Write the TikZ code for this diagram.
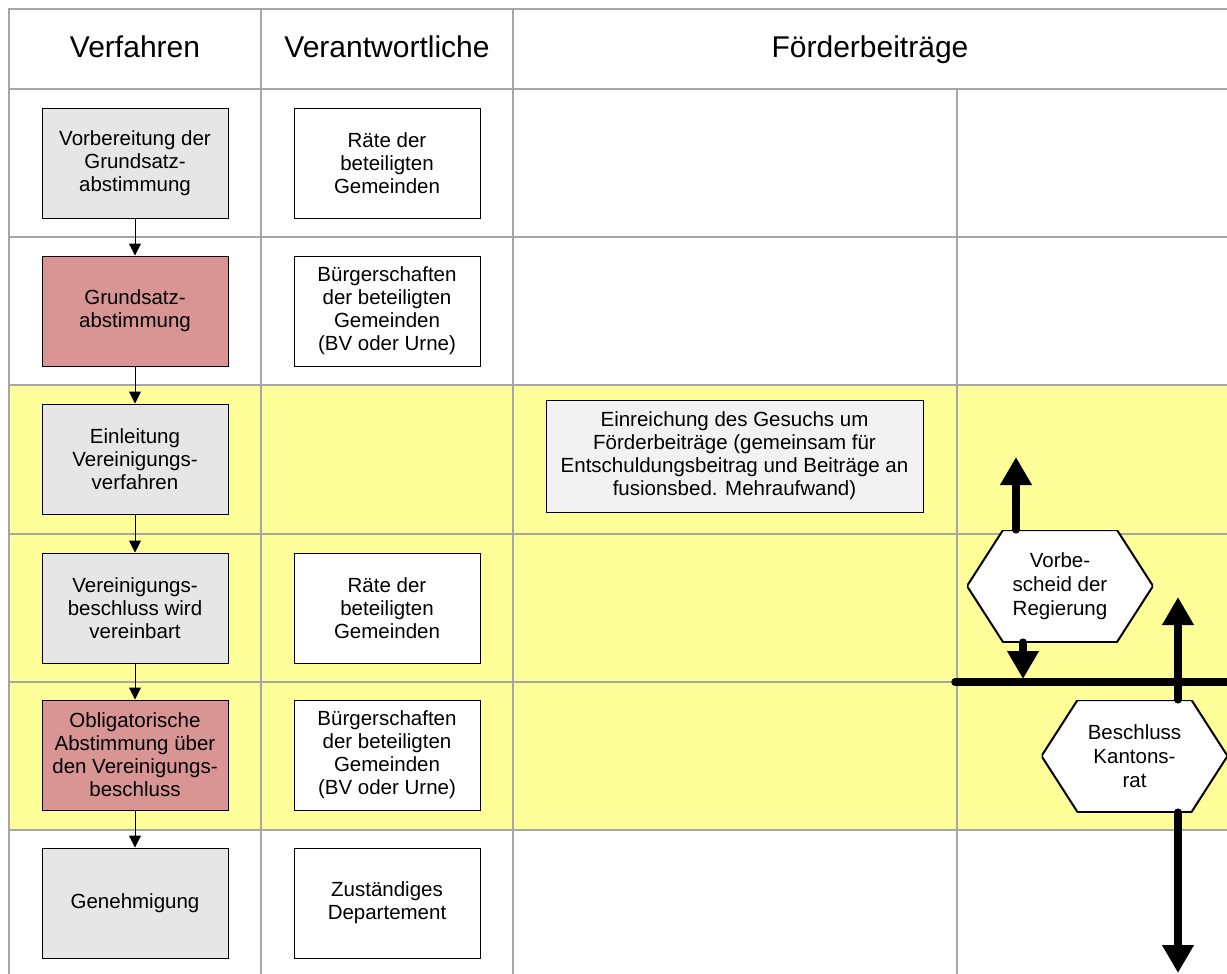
\documentclass[tikz,border=0pt]{standalone}
\usepackage{fontspec}
\setmainfont{Liberation Sans}
\usetikzlibrary{arrows.meta}
\definecolor{gridgray}{RGB}{166,166,166}
\definecolor{laneyellow}{RGB}{255,255,153}
\definecolor{stepgray}{RGB}{230,230,230}
\definecolor{steprose}{RGB}{217,149,148}
\definecolor{notegray}{RGB}{242,242,242}
\tikzset{
	lane/.style={draw=gridgray,line width=2pt},
	box/.style={draw=black,line width=1pt,minimum width=186pt,minimum height=110pt,inner sep=2pt,align=center,font=\fontsize{20.5}{23}\selectfont},
	stepbox/.style={box,fill=stepgray},
	votebox/.style={box,fill=steprose},
	rolebox/.style={box,fill=white},
	head/.style={anchor=base,font=\fontsize{30}{34}\selectfont},
	flow/.style={-{Triangle[width=12pt,length=12pt]},line width=1pt},
	bold/.style={line width=7.5pt,line cap=round},
	boldarrow/.style={bold,-{Triangle[width=30pt,length=28pt]}},
	hexnode/.style={minimum width=186pt,minimum height=112pt,inner sep=0pt,align=center,font=\fontsize{20.5}{24}\selectfont,
		path picture={\draw[fill=white,line width=2pt] (path picture bounding box.west) -- ([xshift=36pt]path picture bounding box.north west) -- ([xshift=-36pt]path picture bounding box.north east) -- (path picture bounding box.east) -- ([xshift=-36pt]path picture bounding box.south east) -- ([xshift=36pt]path picture bounding box.south west) -- cycle;}}
}
\begin{document}
\begin{tikzpicture}[x=1pt,y=-1pt]
	\useasboundingbox (0,0) rectangle (1227,974);
	% table
	\fill[laneyellow] (9,385) rectangle (1229,830);
	\draw[lane] (9,976) -- (9,9) -- (1229,9);
	\foreach \y in {89,237,385,534,682,830}
		\draw[lane] (9,\y) -- (1229,\y);
	\draw[lane] (261,9) -- (261,976);
	\draw[lane] (513,9) -- (513,976);
	\draw[lane] (957,89) -- (957,976);
	
	\node[head] (hVerf) at (135,58) {Verfahren};
	\node[head] (hVerant) at (387,58) {Verantwortliche};
	\node[head] (hFoerd) at (870,58) {Förderbeiträge};
	
	% Verfahren
	\node[stepbox] (vorb) at (135,163) {Vorbereitung der\\Grundsatz-\\abstimmung};
	\node[votebox] (grund) at (135,311) {Grundsatz-\\abstimmung};
	\node[stepbox] (einl) at (135,459) {Einleitung\\Vereinigungs-\\verfahren};
	\node[stepbox] (verein) at (135,608) {Vereinigungs-\\beschluss wird\\vereinbart};
	\node[votebox] (oblig) at (135,755) {Obligatorische\\Abstimmung über\\den Vereinigungs-\\beschluss};
	\node[stepbox] (genehm) at (135,903) {Genehmigung};
	
	\draw[flow] (vorb) -- (grund);
	\draw[flow] (grund) -- (einl);
	\draw[flow] (einl) -- (verein);
	\draw[flow] (verein) -- (oblig);
	\draw[flow] (oblig) -- (genehm);
	
	% Verantwortliche
	\node[rolebox] (rat1) at (387,163) {Räte der\\beteiligten\\Gemeinden};
	\node[rolebox] (buerg1) at (387,311) {Bürgerschaften\\der beteiligten\\Gemeinden\\(BV oder Urne)};
	\node[rolebox] (rat2) at (387,608) {Räte der\\beteiligten\\Gemeinden};
	\node[rolebox] (buerg2) at (387,755) {Bürgerschaften\\der beteiligten\\Gemeinden\\(BV oder Urne)};
	\node[rolebox] (depart) at (387,903) {Zuständiges\\Departement};
	
	% Foerderbeitraege
	\node[box,fill=notegray,minimum width=377pt,minimum height=112pt] (gesuch) at (734.5,456) {Einreichung des Gesuchs um\\Förderbeiträge (gemeinsam für\\Entschuldungsbeitrag und Beiträge an\\fusionsbed. Mehraufwand)};
	\node[hexnode] (vorbescheid) at (1060,586) {Vorbe-\\scheid der\\Regierung};
	\node[hexnode] (kantonsrat) at (1134.5,756) {Beschluss\\Kantons-\\rat};
	
	\coordinate (upA) at (1016,457);
	\coordinate (downA) at (1023,679);
	\coordinate (barW) at (955,682);
	\coordinate (barE) at (1232,682);
	\coordinate (junc) at (1178,682);
	\coordinate (upB) at (1178,597);
	\coordinate (downB) at (1178,973);
	
	\draw[boldarrow] (upA |- vorbescheid.north) -- (upA);
	\draw[boldarrow] (downA |- vorbescheid.south) -- (downA);
	\draw[bold] (barW) -- (barE);
	\draw[boldarrow] (junc) -- (upB);
	\draw[bold] (junc) -- (junc |- kantonsrat.north);
	\draw[boldarrow] (junc |- kantonsrat.south) -- (downB);
	\fill (junc) circle (6pt);
\end{tikzpicture}
\end{document}
